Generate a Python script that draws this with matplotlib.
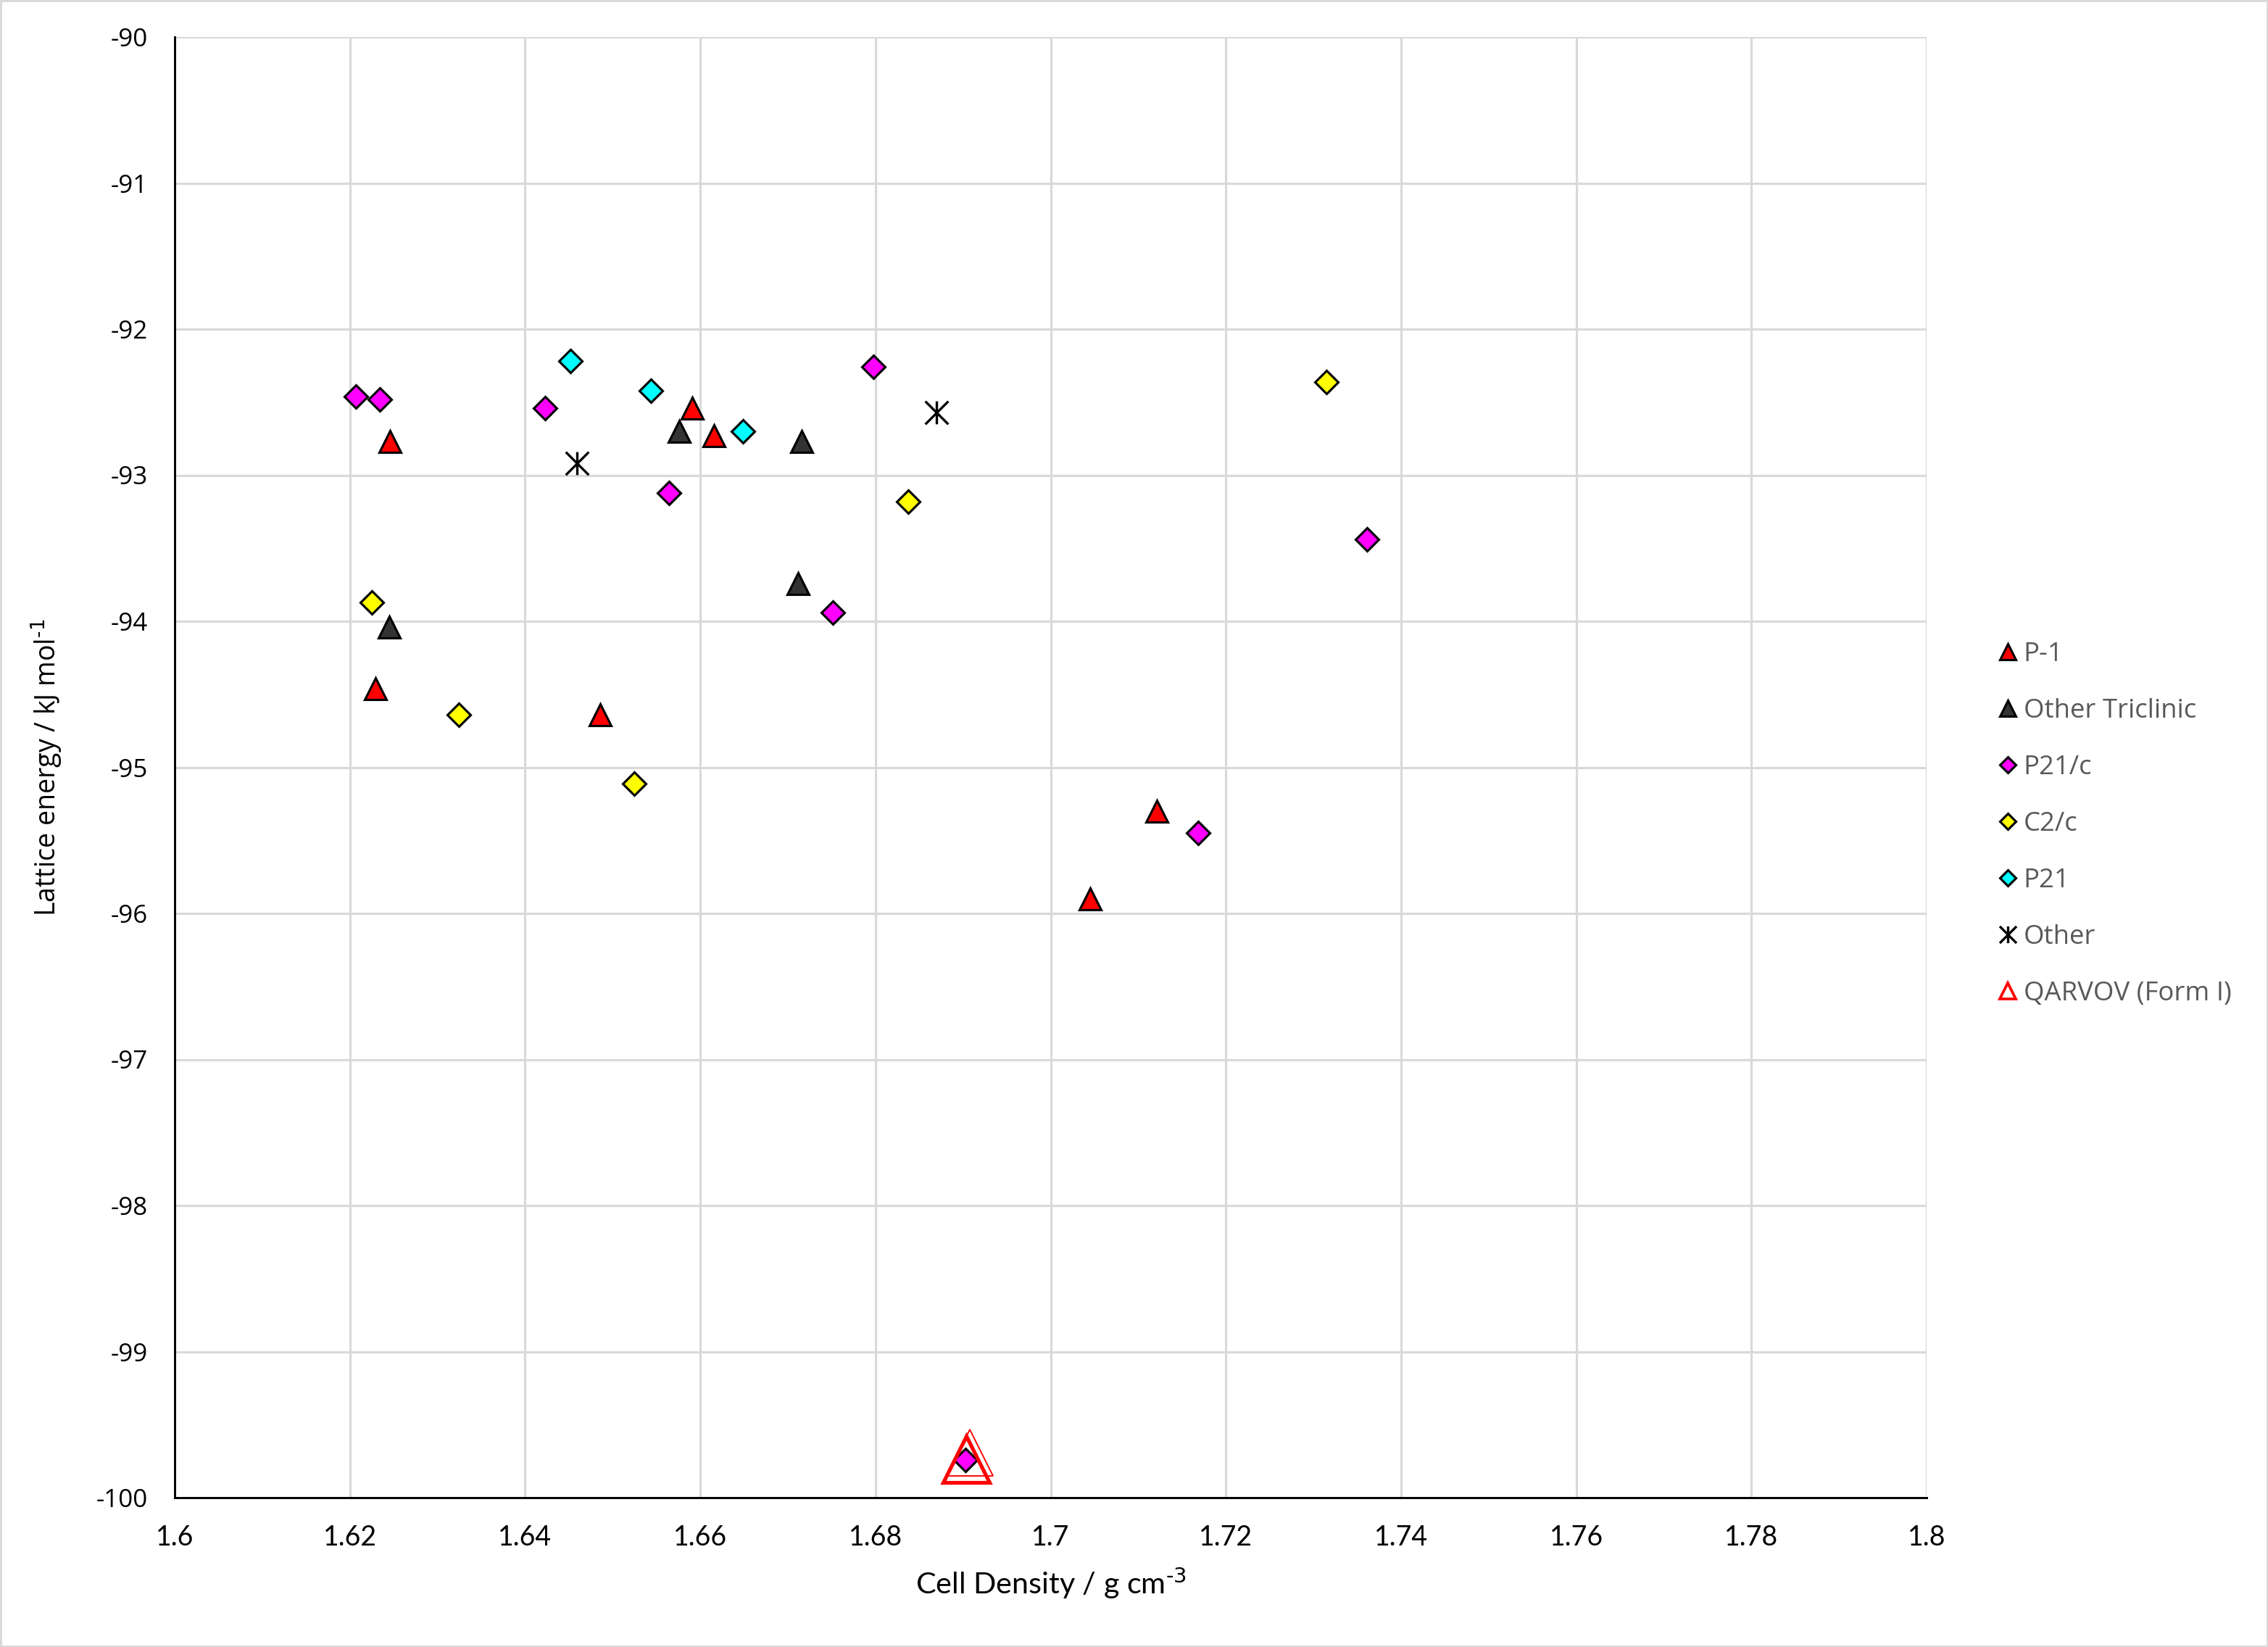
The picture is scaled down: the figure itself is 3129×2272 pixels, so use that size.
import matplotlib
matplotlib.use('Agg')
import matplotlib.pyplot as plt
from matplotlib.path import Path
from matplotlib.patches import Rectangle

# ─── Data ──────────────────────────────────────────────────────────────────────
p1_x = [1.6246, 1.6229, 1.6486, 1.6591, 1.6616, 1.7045, 1.7121]
p1_y = [-92.77, -94.46, -94.64, -92.54, -92.73, -95.90, -95.30]

tri_x = [1.6245, 1.6576, 1.6716, 1.6712]
tri_y = [-94.04, -92.70, -92.77, -93.74]

p21c_x = [1.6207, 1.6234, 1.6423, 1.6564, 1.6798, 1.6751, 1.7361, 1.7168, 1.6903]
p21c_y = [-92.46, -92.48, -92.54, -93.12, -92.26, -93.94, -93.44, -95.45, -99.74]

c2c_x = [1.6225, 1.6324, 1.6525, 1.6837, 1.7315]
c2c_y = [-93.87, -94.64, -95.11, -93.18, -92.36]

p21_x = [1.6452, 1.6544, 1.6649]
p21_y = [-92.22, -92.42, -92.70]

other_x = [1.6459, 1.6870]
other_y = [-92.92, -92.57]

qarvov_x = [1.6904, 1.6908]
qarvov_y = [-99.735, -99.69]

X_TICKS = [1.6, 1.62, 1.64, 1.66, 1.68, 1.7, 1.72, 1.74, 1.76, 1.78, 1.8]
Y_TICKS = [-100, -99, -98, -97, -96, -95, -94, -93, -92, -91, -90]

# ─── Styles ────────────────────────────────────────────────────────────────────
TRI_MS, DIA_MS, EW = 7.4, 5.3, 0.75
ASTER = Path([(-1, -1), (1, 1), (-1, 1), (1, -1), (0, -1), (0, 1)],
             [Path.MOVETO, Path.LINETO, Path.MOVETO, Path.LINETO,
              Path.MOVETO, Path.LINETO])
GRID = '#d9d9d9'

fig = plt.figure(figsize=(3129 / 300, 2272 / 300), dpi=300)
ax = fig.add_axes([241 / 3129, 1 - 2066 / 2272, (2658 - 241) / 3129, (2066 - 51) / 2272])

ax.plot(p1_x, p1_y, ls='none', marker='^', ms=TRI_MS, mfc='#ff0000', mec='black',
        mew=EW, label='P-1', zorder=3)
ax.plot(tri_x, tri_y, ls='none', marker='^', ms=TRI_MS, mfc='#333333', mec='black',
        mew=EW, label='Other Triclinic', zorder=3)
ax.plot(p21c_x, p21c_y, ls='none', marker='D', ms=DIA_MS, mfc='#ff00ff', mec='black',
        mew=EW, label='P21/c', zorder=3)
ax.plot(c2c_x, c2c_y, ls='none', marker='D', ms=DIA_MS, mfc='#ffff00', mec='black',
        mew=EW, label='C2/c', zorder=3)
ax.plot(p21_x, p21_y, ls='none', marker='D', ms=DIA_MS, mfc='#00ffff', mec='black',
        mew=EW, label='P21', zorder=3)
ax.plot(other_x, other_y, ls='none', marker=ASTER, ms=7.6, mfc='none', mec='black',
        mew=0.8, label='Other', zorder=3)
# QARVOV: thick open triangle plus a thinner offset copy
ax.plot(qarvov_x[:1], qarvov_y[:1], ls='none', marker='^', ms=15.5, mfc='none',
        mec='#ff0000', mew=1.25, label='QARVOV (Form I)', zorder=4)
ax.plot(qarvov_x[1:], qarvov_y[1:], ls='none', marker='^', ms=15.5, mfc='none',
        mec='#ff0000', mew=0.45, zorder=4)

ax.set_xlim(1.6, 1.8)
ax.set_ylim(-100, -90)
ax.set_xticks(X_TICKS)
ax.set_xticklabels([f'{v:g}' for v in X_TICKS])
ax.set_yticks(Y_TICKS)
ax.set_yticklabels([f'{v:g}' for v in Y_TICKS])
ax.tick_params(length=0)
ax.tick_params(axis='x', pad=9, labelsize=9.0)
ax.tick_params(axis='y', pad=9, labelsize=8.4)
for lab in ax.get_xticklabels():
    lab.set_family('Lato')
for lab in ax.get_yticklabels():
    lab.set_family('Open Sans')

ax.grid(True, color=GRID, linewidth=0.75, zorder=0)
ax.set_axisbelow(True)
for side in ('top', 'right'):
    ax.spines[side].set_visible(False)
for side in ('left', 'bottom'):
    ax.spines[side].set_linewidth(0.7)
    ax.spines[side].set_zorder(2.5)

ax.set_xlabel('Cell Density / g cm$\\mathregular{^{\\text{-3}}}$', family='Lato',
              fontsize=9.9, labelpad=5)
ax.set_ylabel('Lattice energy / kJ mol$\\mathregular{^{\\text{-1}}}$', family='Open Sans',
              fontsize=9)
ax.yaxis.set_label_coords(-0.063, 0.5)

leg = fig.legend(loc='center left', bbox_to_anchor=(2737 / 3129, 1 - 1137 / 2272),
                 frameon=False, markerscale=0.73, handlelength=0.8,
                 handletextpad=0.2, labelspacing=1.15, borderpad=0,
                 prop={'family': 'Open Sans', 'size': 8.75})
for t in leg.get_texts():
    t.set_color('#595959')
# the QARVOV key is drawn at the same size as the others, with a heavier edge
leg.legend_handles[-1].set_markersize(5.4)
leg.legend_handles[-1].set_markeredgewidth(0.9)

fig.patches.append(Rectangle((0, 0), 1, 1, transform=fig.transFigure, fill=False,
                             edgecolor=GRID, linewidth=1.2))

fig.savefig('out.png', dpi=300)
